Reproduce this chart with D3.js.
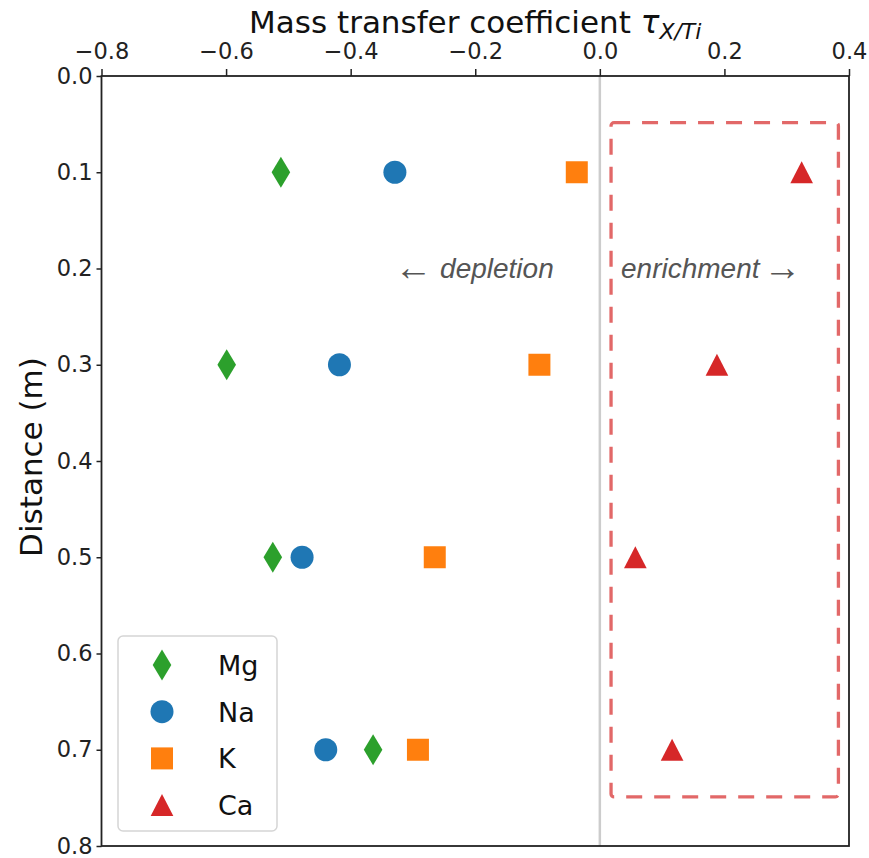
<!DOCTYPE html>
<html>
<head>
<meta charset="utf-8">
<script src="https://cdn.jsdelivr.net/npm/d3@7"></script>
<style>
  body { margin: 0; background: #fff; }
  svg { display: block; font-family: "DejaVu Sans", sans-serif; }
</style>
</head>
<body>
<div id="chart"></div>
<script>
// depth of each sample (m)
const distances = [0.1, 0.3, 0.5, 0.7];

// mass transfer coefficient tau per element
const mgTau = [-0.512, -0.599, -0.525, -0.364];
const naTau = [-0.329, -0.418, -0.478, -0.440];
const kTau  = [-0.037, -0.097, -0.265, -0.292];
const caTau = [0.324, 0.188, 0.057, 0.116];

const elements = ['Mg', 'Na', 'K', 'Ca'];
const xTicks = [-0.8, -0.6, -0.4, -0.2, 0.0, 0.2, 0.4];
const yTicks = [0.0, 0.1, 0.2, 0.3, 0.4, 0.5, 0.6, 0.7, 0.8];

const W = 869, H = 858;
const margin = { top: 76, right: 20, bottom: 12, left: 101.5 };

const svg = d3.select('#chart').append('svg')
  .attr('width', W)
  .attr('height', H);

const x = d3.scaleLinear().domain([-0.8, 0.4]).range([margin.left, 849]);
const y = d3.scaleLinear().domain([0, 0.8]).range([margin.top, 846]);

// custom marker shapes (matplotlib style), size = half height
const thinDiamond = { draw(ctx, s) { ctx.moveTo(0, -s); ctx.lineTo(s * 0.6, 0); ctx.lineTo(0, s); ctx.lineTo(-s * 0.6, 0); ctx.closePath(); } };
const triUp = { draw(ctx, s) { ctx.moveTo(0, -s); ctx.lineTo(s * 1.03, s); ctx.lineTo(-s * 1.03, s); ctx.closePath(); } };
const square = { draw(ctx, s) { ctx.rect(-s, -s, 2 * s, 2 * s); } };
const circle = { draw(ctx, s) { ctx.moveTo(s, 0); ctx.arc(0, 0, s, 0, 2 * Math.PI); } };

const series = [
  { name: elements[0], values: mgTau, color: '#2ca02c', type: thinDiamond, size: 15.5 },
  { name: elements[1], values: naTau, color: '#1f77b4', type: circle, size: 11.5 },
  { name: elements[2], values: kTau,  color: '#ff7f0e', type: square, size: 11 },
  { name: elements[3], values: caTau, color: '#d62728', type: triUp, size: 11 }
];

// zero line
svg.append('line')
  .attr('x1', x(0)).attr('x2', x(0))
  .attr('y1', y(0)).attr('y2', y(0.8))
  .attr('stroke', '#cccccc')
  .attr('stroke-width', 2.5);

// enrichment box
svg.append('rect')
  .attr('x', x(0.018)).attr('y', y(0.0485))
  .attr('width', x(0.383) - x(0.018))
  .attr('height', y(0.749) - y(0.0485))
  .attr('rx', 3)
  .attr('fill', 'none')
  .attr('stroke', '#e26868')
  .attr('stroke-width', 3.3)
  .attr('stroke-dasharray', '16,12');

// annotations
const dep = svg.append('text')
  .attr('x', x(-0.074)).attr('y', y(0.2) + 9)
  .attr('text-anchor', 'end')
  .attr('font-family', 'Liberation Sans, Arial, sans-serif')
  .attr('font-style', 'italic')
  .attr('font-size', 28)
  .attr('fill', '#555');
dep.append('tspan').attr('font-style', 'normal').attr('font-size', 38).attr('dy', 2).text('\u2190');
dep.append('tspan').attr('dy', -2).text(' depletion');

const enr = svg.append('text')
  .attr('x', x(0.034)).attr('y', y(0.2) + 9)
  .attr('text-anchor', 'start')
  .attr('font-family', 'Liberation Sans, Arial, sans-serif')
  .attr('font-style', 'italic')
  .attr('font-size', 28)
  .attr('fill', '#555');
enr.append('tspan').text('enrichment ');
enr.append('tspan').attr('font-style', 'normal').attr('font-size', 38).attr('dy', 2).attr('dx', -4).text('\u2192');

// markers
series.forEach(s => {
  svg.append('g').selectAll('path')
    .data(distances.map((d, i) => ({ d, v: s.values[i] })))
    .enter()
    .append('path')
    .attr('transform', p => `translate(${x(p.v)},${y(p.d)})`)
    .attr('d', d3.symbol().type(s.type).size(s.size))
    .attr('fill', s.color);
});

// axes
const xAxis = svg.append('g')
  .attr('transform', `translate(0,${y(0)})`)
  .call(d3.axisTop(x).tickValues(xTicks).tickFormat(d => d3.format('.1f')(d).replace('-', '\u2212')).tickSize(7).tickSizeOuter(0));
const yAxis = svg.append('g')
  .attr('transform', `translate(${x(-0.8)},0)`)
  .call(d3.axisLeft(y).tickValues(yTicks).tickFormat(d3.format('.1f')).tickSize(5).tickSizeOuter(0));

[xAxis, yAxis].forEach(a => {
  a.select('.domain').remove();
  a.selectAll('.tick line').attr('stroke', '#222').attr('stroke-width', 1.5);
  a.selectAll('.tick text')
    .attr('font-family', 'DejaVu Sans, sans-serif')
    .attr('font-size', 22.5)
    .attr('fill', '#222');
});
xAxis.selectAll('.tick text').attr('y', -17).attr('dy', 0);
yAxis.selectAll('.tick text').attr('x', -9);

// frame
svg.append('rect')
  .attr('x', x(-0.8)).attr('y', y(0))
  .attr('width', x(0.4) - x(-0.8))
  .attr('height', y(0.8) - y(0))
  .attr('fill', 'none')
  .attr('stroke', '#222')
  .attr('stroke-width', 1.8);

// axis titles
const title = svg.append('text')
  .attr('x', (x(-0.8) + x(0.4)) / 2)
  .attr('y', 33)
  .attr('text-anchor', 'middle')
  .attr('font-size', 31)
  .attr('fill', '#111');
title.append('tspan').text('Mass transfer coefficient ');
title.append('tspan').attr('font-style', 'italic').text('\u03c4');
title.append('tspan').attr('font-style', 'italic').attr('font-size', 22).attr('dy', 6).text('X/Ti');

svg.append('text')
  .attr('transform', `translate(42,${(y(0) + y(0.8)) / 2 - 4}) rotate(-90)`)
  .attr('text-anchor', 'middle')
  .attr('font-size', 31)
  .attr('fill', '#111')
  .text('Distance (m)');

// legend
const legend = svg.append('g');
legend.append('rect')
  .attr('x', 118).attr('y', 636)
  .attr('width', 159).attr('height', 195)
  .attr('rx', 5)
  .attr('fill', '#fff')
  .attr('fill-opacity', 0.8)
  .attr('stroke', '#d5d5d5')
  .attr('stroke-width', 1.5);

series.forEach((s, i) => {
  const cy = 665 + i * 46.7;
  legend.append('path')
    .attr('transform', `translate(162,${cy})`)
    .attr('d', d3.symbol().type(s.type).size(s.size))
    .attr('fill', s.color);
  legend.append('text')
    .attr('x', 218).attr('y', cy + 10)
    .attr('font-size', 27)
    .attr('fill', '#111')
    .text(s.name);
});
</script>
</body>
</html>
